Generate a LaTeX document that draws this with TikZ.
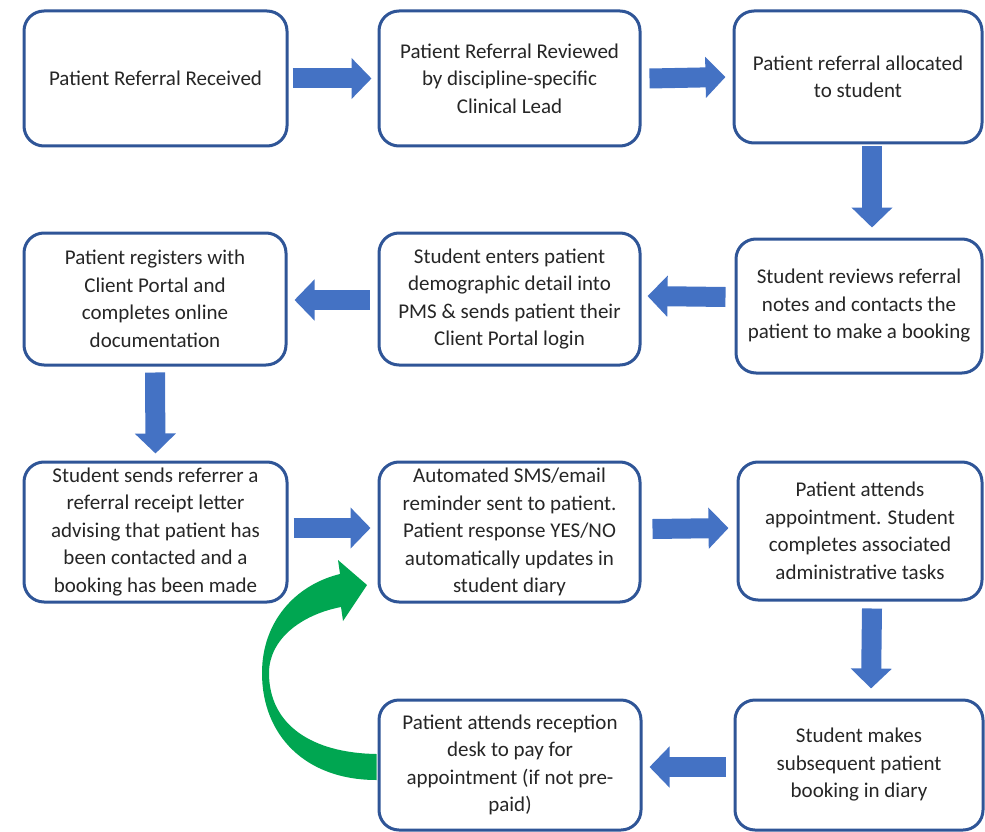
\documentclass[tikz,border=0pt]{standalone}
\usepackage{fontspec}
\setmainfont{Carlito}
\usetikzlibrary{arrows.meta,calc}
\definecolor{boxblue}{HTML}{2F5597}
\definecolor{arrblue}{HTML}{4472C4}
\definecolor{arrgreen}{HTML}{00A651}
\tikzset{
  box/.style={draw=boxblue, line width=3pt, rounded corners=20pt, fill=white,
    align=center, font=\fontsize{21}{27.5}\selectfont, text=black!85, inner sep=0pt},
  blk/.style={draw=arrblue, line width=20pt, line cap=butt,
    -{Triangle[width=40pt,length=20pt]}},
}
\begin{document}
\begin{tikzpicture}[x=1pt,y=-1pt]
\useasboundingbox (0,0) rectangle (985,832);
% row 1
\node[box, minimum width=263pt, minimum height=135pt] (A) at (155.5,78.5) {Patient Referral Received};
\node[box, minimum width=261pt, minimum height=135pt] (B) at (509.5,78.5) {Patient Referral Reviewed\\by discipline-specific\\Clinical Lead};
\node[box, minimum width=248pt, minimum height=132pt] (C) at (858,77) {Patient referral allocated\\to student};
% row 2
\node[box, minimum width=262pt, minimum height=132pt] (D) at (155,299) {Patient registers with\\Client Portal and\\completes online\\documentation};
\node[box, minimum width=261pt, minimum height=132pt] (E) at (509.5,299) {Student enters patient\\demographic detail into\\PMS \& sends patient their\\Client Portal login};
\node[box, minimum width=246pt, minimum height=134pt] (F) at (859,306) {Student reviews referral\\notes and contacts the\\patient to make a booking};
% row 3
\node[box, minimum width=263pt, minimum height=140pt] (G) at (155.5,532) {Student sends referrer a\\referral receipt letter\\advising that patient has\\been contacted and a\\booking has been made};
\node[box, minimum width=261pt, minimum height=140pt] (H) at (509.5,532) {Automated SMS/email\\reminder sent to patient.\\Patient response YES/NO\\automatically updates in\\student diary};
\node[box, minimum width=244pt, minimum height=138pt] (I) at (860,531) {Patient attends\\appointment. Student\\completes associated\\administrative tasks};
% row 4
\node[box, minimum width=262pt, minimum height=130pt] (J) at (510,765) {Patient attends reception\\desk to pay for\\appointment (if not pre-\\paid)};
\node[box, minimum width=248pt, minimum height=130pt] (K) at (859,765) {Student makes\\subsequent patient\\booking in diary};
% block arrows
\draw[blk] ($(A.east)+(4,0)$) -- ($(B.west)+(-6,0)$);
\draw[blk] ($(B.east)+(8,0)$) -- ($(C.west)+(-7,0)$);
\draw[blk] ($(C.south)+(14,2)$) -- ($(F.north)+(13,-10)$);
\draw[blk] ($(F.west)+(-9,-9)$) -- ($(E.east)+(6,-3)$);
\draw[blk] ($(E.west)+(-8,1)$) -- ($(D.east)+(7,1)$);
\draw[blk] ($(D.south)+(0,6)$) -- ($(G.north)+(0,-7)$);
\draw[blk] ($(G.east)+(5,-4)$) -- ($(H.west)+(-7,-4)$);
\draw[blk] ($(H.east)+(11,-3)$) -- ($(I.west)+(-8,-3)$);
\draw[blk] ($(I.south)+(12,7)$) -- ($(K.north)+(12,-10)$);
\draw[blk] ($(K.west)+(-8,2)$) -- ($(J.east)+(7,2)$);
% green curved arrow from J back to H
\coordinate (gs) at ($(J.west)+(-1,2)$);
\fill[arrgreen] ($(gs)+(0,13)$)
  .. controls (305,780) and (262,735) .. (262,673)
  .. controls (262,622) and (295,585) .. (340,574)
  -- (338,560) -- (367,585) -- (343,621)
  -- (341,607)
  .. controls (300,615) and (269,640) .. (269,673)
  .. controls (269,725) and (312,753) .. ($(gs)+(0,-13)$)
  -- cycle;
\end{tikzpicture}
\end{document}
